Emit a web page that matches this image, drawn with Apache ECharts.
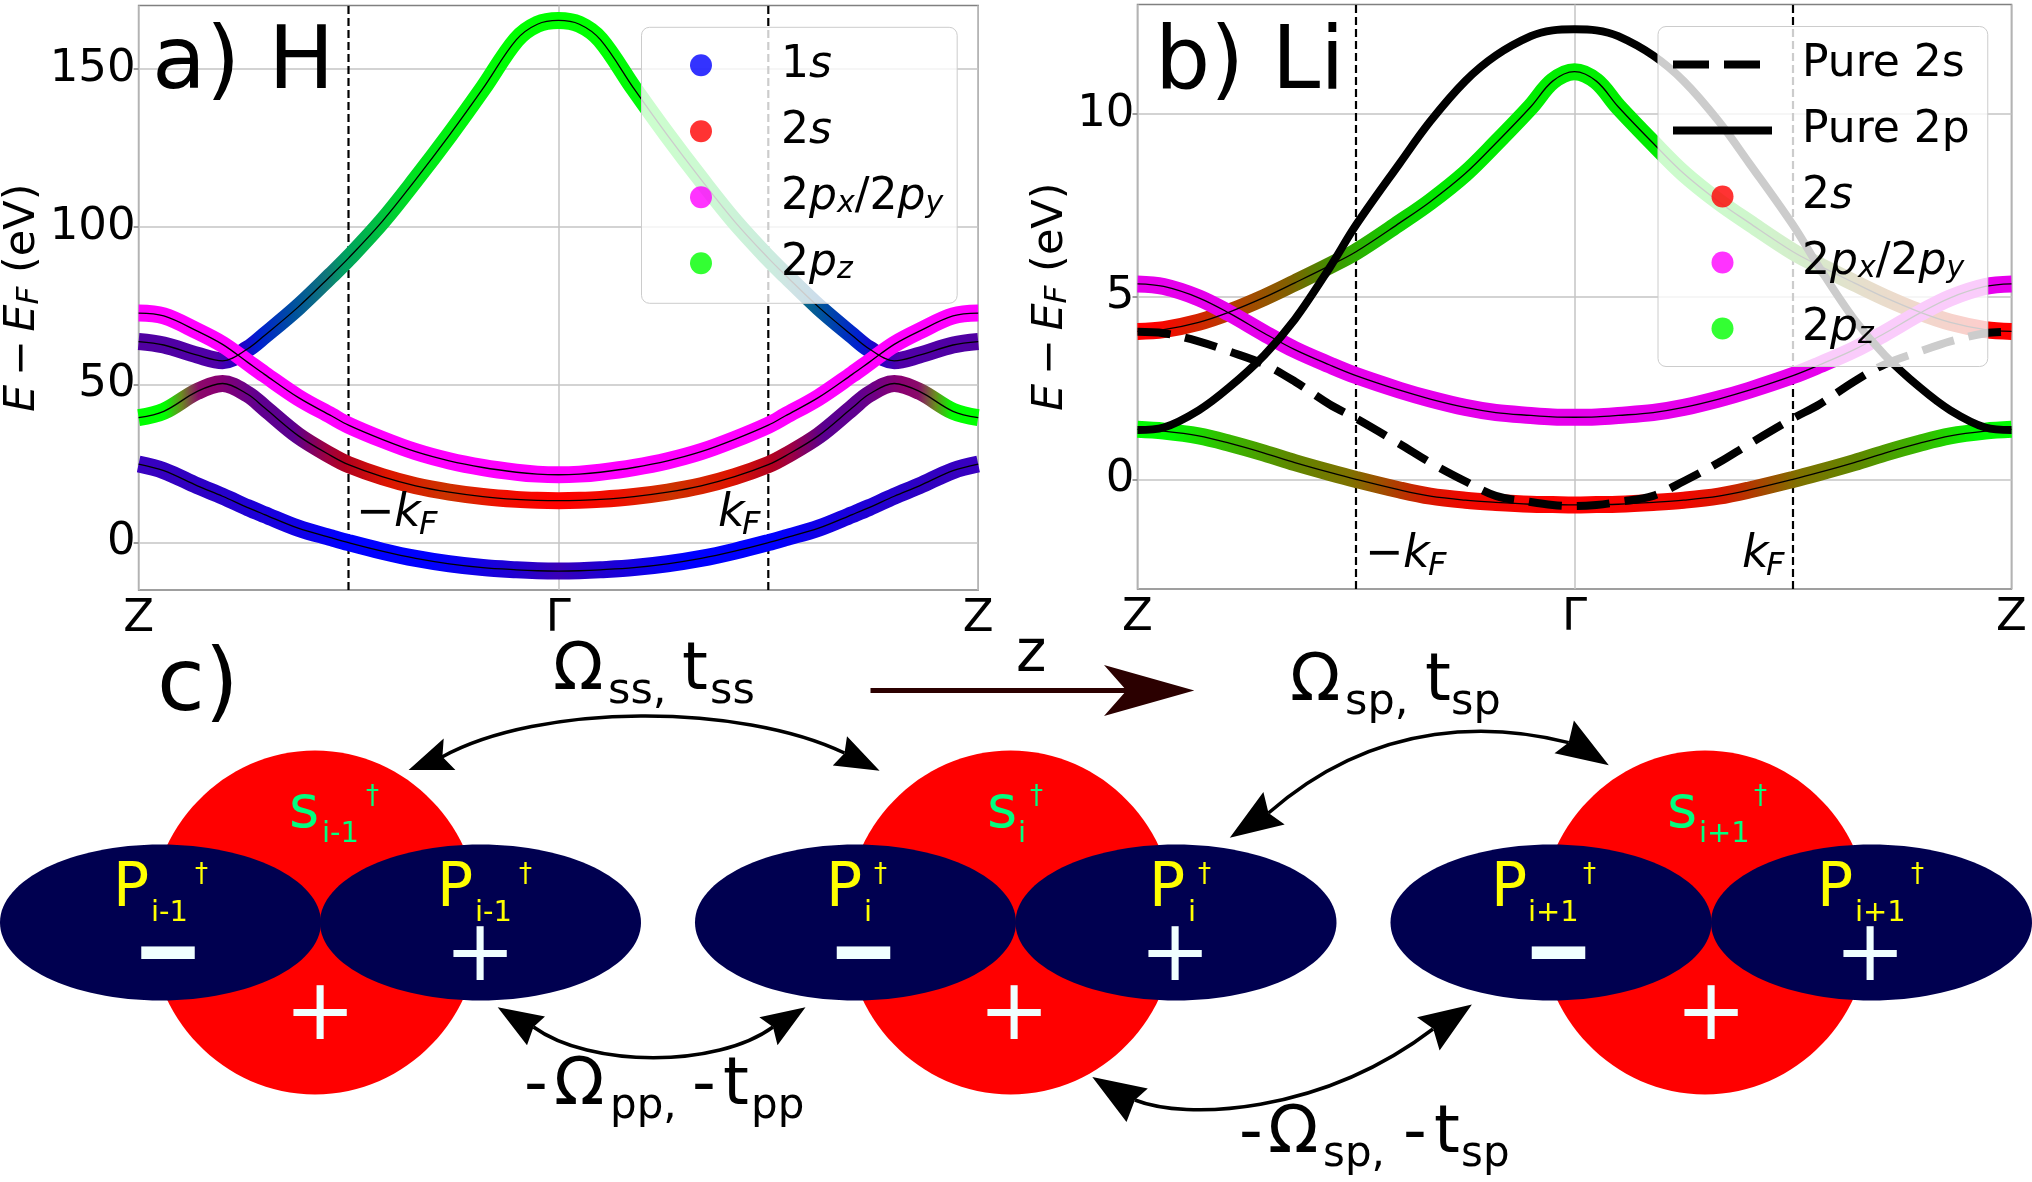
<!DOCTYPE html>
<html>
<head>
    <meta charset="utf-8"/>
    <script src="https://cdn.jsdelivr.net/npm/echarts@6/dist/echarts.min.js"></script>
    <style>html,body{margin:0;padding:0;background:#fff}</style>
</head>
<body>
<div id="main" style="width: 2032px;height:1182px;"></div>
<script type="text/javascript">
    // band energies, Z -> Gamma only (the other half is the mirror image)
    var kA = [0, .03, .07, .1, .13, .15, .19, .23, .25, .29, .33, .37, .41, .45, .475, .5];
    var h1s = [24.9, 22.8, 18.0, 14.7, 11.1, 8.9, 4.6, 1.5, 0, -2.7, -5, -6.7, -7.9, -8.6, -8.9, -9];
    var h2s = [39.6, 41.6, 47.9, 50.4, 47, 42.7, 33.9, 27.4, 24.7, 20.9, 18, 16, 14.6, 13.7, 13.4, 13.3];
    var h2pz = [63.7, 62.6, 59.4, 57.6, 61.4, 65.6, 74.6, 84.8, 90.1, 101.7, 115, 129, 143.8, 159.3, 164.2, 165.4];
    var h2pxy = [72.7, 71.8, 67, 62.8, 57.1, 53.3, 46, 40.1, 37.2, 32.7, 28.8, 25.9, 23.8, 22.3, 21.7, 21.5];

    var kB = [0, .03, .07, .105, .145, .18, .22, .25, .3, .335, .375, .41, .45, .475, .5];
    var liLow = [1.37, 1.32, 1.19, .99, .72, .46, .19, 0, -.29, -.46, -.57, -.63, -.68, -.69, -.7];
    var liUp = [4.05, 4.1, 4.3, 4.58, 4.98, 5.38, 5.85, 6.23, 7.02, 7.6, 8.37, 9.2, 10.2, 10.9, 11.16];
    var liPxy = [5.35, 5.28, 4.97, 4.55, 4.0, 3.55, 3.13, 2.84, 2.44, 2.2, 1.97, 1.83, 1.75, 1.71, 1.70];
    var pure2p = [1.35, 1.42, 1.89, 2.52, 3.4, 4.38, 5.8, 6.96, 8.65, 9.8, 10.9, 11.6, 12.13, 12.29, 12.32];
    var pure2s = [4.04, 4.0, 3.78, 3.5, 3.15, 2.68, 2.05, 1.67, .97, .46, -.05, -.45, -.62, -.7, -.73];

    var kFermi = [.25, .75];
    var ticksA = [0, 50, 100, 150];
    var ticksB = [0, 5, 10];
    var FONT = '"DejaVu Sans"';

    function mirror(k, v) {
        var out = [];
        for (var i = 0; i < k.length; i++) out.push([k[i], v[i]]);
        for (var j = k.length - 2; j >= 0; j--) out.push([1 - k[j], v[j]]);
        return out;
    }
    // colour along the band (orbital weight), given for the left half
    function grad(stops) {
        var s = [];
        stops.forEach(function (p) { s.push({offset: p[0], color: p[1]}); });
        for (var i = stops.length - 2; i >= 0; i--) s.push({offset: 1 - stops[i][0], color: stops[i][1]});
        return new echarts.graphic.LinearGradient(0, 0, 1, 0, s);
    }

    var series = [];
    function band(idx, name, k, v, color) {
        series.push({
            name: name, type: 'line', xAxisIndex: idx, yAxisIndex: idx, data: mirror(k, v),
            smooth: .35, symbol: 'none', silent: true,
            lineStyle: {width: 17, color: color, cap: 'butt', join: 'round'}
        });
    }
    function thin(idx, k, v) {
        series.push({
            type: 'line', xAxisIndex: idx, yAxisIndex: idx, data: mirror(k, v),
            smooth: .35, symbol: 'none', silent: true,
            lineStyle: {width: 1.3, color: '#000'}
        });
    }
    function dummy(idx, name, color) {
        series.push({name: name, type: 'scatter', xAxisIndex: idx, yAxisIndex: idx, data: [], itemStyle: {color: color}});
    }

    // kF markers
    [0, 1].forEach(function (idx) {
        kFermi.forEach(function (kf) {
            var yr = idx === 0 ? [-15, 170.1] : [-3, 13];
            series.push({
                type: 'line', xAxisIndex: idx, yAxisIndex: idx, data: [[kf, yr[0]], [kf, yr[1]]], z: 3,
                symbol: 'none', silent: true, lineStyle: {width: 2.2, color: '#000', type: [8, 4]}
            });
        });
    });

    band(0, 'band 1', kA, h1s, grad([[0, '#3b00c0'], [.07, '#3000c0'], [.2, '#1000e8'], [.25, '#0000ff'], [.35, '#0000ff'], [.45, '#2000d0'], [.5, '#3800b8']]));
    band(0, 'band 2', kA, h2s, grad([[0, '#00ff00'], [.04, '#00ff00'], [.06, '#6a8a20'], [.08, '#8a0a6a'], [.1, '#8a0070'], [.15, '#600090'], [.19, '#5a0090'], [.23, '#a00040'], [.25, '#b00020'], [.3, '#dd1500'], [.37, '#cc3300'], [.43, '#ee1000'], [.5, '#ff0000']]));
    band(0, 'band 3', kA, h2pz, grad([[0, '#5000a0'], [.1, '#5000a8'], [.13, '#2000c8'], [.15, '#0020d0'], [.19, '#0050a0'], [.23, '#107878'], [.25, '#00a060'], [.29, '#00c040'], [.33, '#00e020'], [.37, '#00f010'], [.45, '#00ff00'], [.5, '#00ff00']]));
    band(0, 'band 4', kA, h2pxy, '#ff00ff');
    [h1s, h2s, h2pz, h2pxy].forEach(function (v) { thin(0, kA, v); });

    band(1, 'band 5', kB, liLow, grad([[0, '#00ff00'], [.05, '#00f800'], [.1, '#30c000'], [.18, '#5e8800'], [.25, '#807000'], [.3, '#b03c00'], [.335, '#d81800'], [.375, '#ee0800'], [.5, '#ff0000']]));
    band(1, 'band 6', kB, liUp, grad([[0, '#ff0000'], [.03, '#ff0000'], [.07, '#d82000'], [.13, '#a84800'], [.18, '#806000'], [.22, '#488a00'], [.25, '#30aa00'], [.3, '#10d000'], [.35, '#00e800'], [.5, '#00f000']]));
    band(1, 'band 7', kB, liPxy, '#e600ec');
    [liLow, liUp, liPxy].forEach(function (v) { thin(1, kB, v); });

    series.push({
        name: 'Pure 2s', type: 'line', xAxisIndex: 1, yAxisIndex: 1, data: mirror(kB, pure2s), symbol: 'none', silent: true,
        smooth: .35, itemStyle: {color: '#000'}, lineStyle: {width: 8, color: '#000', type: [33, 15]}
    });
    series.push({
        name: 'Pure 2p', type: 'line', xAxisIndex: 1, yAxisIndex: 1, data: mirror(kB, pure2p), symbol: 'none', silent: true,
        smooth: .35, itemStyle: {color: '#000'}, lineStyle: {width: 8, color: '#000'}
    });

    dummy(0, '1s', '#0000ff');
    dummy(0, '2s', '#ff0000');
    dummy(0, '2pxy', '#ff00ff');
    dummy(0, '2pz', '#00ff00');

    function legendRich(gap) {
        return {
            gap: {width: gap},
            n: {fontFamily: FONT, fontSize: 44, color: '#000', height: 48, lineHeight: 48},
            i: {fontFamily: FONT, fontSize: 44, fontStyle: 'italic', color: '#000', height: 48, lineHeight: 48},
            s: {fontFamily: FONT, fontSize: 30, fontStyle: 'italic', color: '#000', padding: [14, 0, 0, 0], height: 34, lineHeight: 34}
        };
    }
    var legendText = {
        '1s': '{gap|}{n|1}{i|s}',
        '2s': '{gap|}{n|2}{i|s}',
        '2pxy': '{gap|}{n|2}{i|p}{s|x}{n|/2}{i|p}{s|y}',
        '2pz': '{gap|}{n|2}{i|p}{s|z}',
        'Pure 2s': '{gap|}{n|Pure 2s}',
        'Pure 2p': '{gap|}{n|Pure 2p}'
    };
    function legendOf(names, left, top, padding, gap, width, textGap) {
        return {
            orient: 'vertical', left: left, top: top, padding: padding, itemGap: gap,
            itemWidth: width, itemHeight: 22, selectedMode: false,
            backgroundColor: 'rgba(255,255,255,0.8)', borderColor: '#ccc', borderWidth: 1, borderRadius: 8,
            data: names.map(function (n) {
                if (n === 'Pure 2s') return {name: n, itemStyle: {opacity: 0}, lineStyle: {width: 8, color: '#000', type: [36, 15]}};
                if (n === 'Pure 2p') return {name: n, itemStyle: {opacity: 0}, lineStyle: {width: 8, color: '#000', type: 'solid'}};
                return {name: n, icon: 'circle'};
            }),
            formatter: function (n) { return legendText[n]; },
            textStyle: {rich: legendRich(textGap), fontFamily: FONT, fontSize: 44}
        };
    }

    function xAxisOf(idx) {
        return {
            type: 'value', gridIndex: idx, min: 0, max: 1, interval: .5,
            axisLine: {show: false}, axisTick: {show: false},
            splitLine: {show: true, lineStyle: {color: '#c4c4c4', width: 1.5}},
            axisLabel: {
                margin: 7, fontFamily: FONT, fontSize: 45, color: '#000',
                formatter: function (v) { return v === .5 ? 'Γ' : 'Z'; }
            }
        };
    }
    function yAxisOf(idx, min, max, ticks, gap) {
        return {
            type: 'value', gridIndex: idx, min: min, max: max,
            axisLine: {show: false},
            axisTick: {show: true, length: 5, lineStyle: {color: '#808080', width: 1.5}, customValues: ticks},
            splitLine: {show: true, lineStyle: {color: '#c4c4c4', width: 1.5}},
            axisLabel: {margin: 3, padding: [6, 0, 0, 0], fontFamily: FONT, fontSize: 45, color: '#000', customValues: ticks},
            name: '{i|E}{n|\u2009−\u2009}{i|E}{s|F}{n|\u00a0(eV)}', nameLocation: 'middle', nameRotate: 90, nameGap: gap,
            nameTextStyle: {
                rich: {
                    n: {fontFamily: FONT, fontSize: 43, color: '#000'},
                    i: {fontFamily: FONT, fontSize: 43, fontStyle: 'italic', color: '#000'},
                    s: {fontFamily: FONT, fontSize: 31, fontStyle: 'italic', color: '#000', padding: [14, 0, 0, 0]}
                }
            }
        };
    }

    // free text, y is the baseline
    function txt(x, base, s, size, color, style) {
        return {
            type: 'text', z: 10, silent: true,
            style: {
                x: x, y: base - .346 * size, text: s, fill: color || '#000', align: 'left', verticalAlign: 'middle',
                font: (style || '') + ' ' + size + 'px ' + FONT
            }
        };
    }
    function centered(x, y, s, size, color, style) {
        var t = txt(x, y, s, size, color, style);
        t.style.y = y;
        t.style.align = 'center';
        return t;
    }
    function poly(points, color) {
        return {type: 'polygon', z: 10, silent: true, shape: {points: points}, style: {fill: color || '#000'}};
    }
    function curve(p, color) {
        return {
            type: 'bezierCurve', z: 10, silent: true,
            shape: {x1: p[0], y1: p[1], cpx1: p[2], cpy1: p[3], cpx2: p[4], cpy2: p[5], x2: p[6], y2: p[7]},
            style: {stroke: color || '#000', lineWidth: 3.5, fill: null}
        };
    }

    var g = [];
    // panel letters
    g.push(txt(152, 96, 'a) H', 88), txt(1155, 96, 'b) Li', 87), txt(157, 718, 'c)', 87));
    // kF labels
    g.push(txt(356, 530, '−', 46), txt(394, 530, 'k', 46, '#000', 'italic'), txt(419, 537, 'F', 32, '#000', 'italic'));
    g.push(txt(718, 530, 'k', 46, '#000', 'italic'), txt(742, 537, 'F', 32, '#000', 'italic'));
    g.push(txt(1365, 571, '−', 46), txt(1403, 571, 'k', 46, '#000', 'italic'), txt(1428, 578, 'F', 32, '#000', 'italic'));
    g.push(txt(1742, 571, 'k', 46, '#000', 'italic'), txt(1766, 578, 'F', 32, '#000', 'italic'));

    // orbitals
    var redX = [315, 1010.6, 1705];
    var blueX = [160.5, 480.5, 855.5, 1176, 1551, 1871.5];
    redX.forEach(function (x) {
        g.push({type: 'ellipse', z: 9, silent: true, shape: {cx: x, cy: 922.5, rx: 165.5, ry: 172}, style: {fill: '#ff0000'}});
    });
    blueX.forEach(function (x) {
        g.push({type: 'ellipse', z: 9, silent: true, shape: {cx: x, cy: 922.5, rx: 160.5, ry: 78}, style: {fill: '#000050'}});
    });
    var GREEN = '#00ff7f', YEL = '#ffff00', SIGN = '#f0ffff';
    [[289, 322, 366, 'i-1'], [987, 1018, 1030, 'i'], [1667, 1699, 1754, 'i+1']].forEach(function (r) {
        g.push(txt(r[0], 832, 's', 58, GREEN), txt(r[1], 845, r[3], 29, GREEN), txt(r[2], 806, '†', 26, GREEN));
    });
    [[113, 151, 195, 'i-1'], [437, 475, 519, 'i-1'], [826, 864, 874, 'i'], [1149, 1188, 1198, 'i'],
        [1491, 1528, 1583, 'i+1'], [1817, 1855, 1911, 'i+1']].forEach(function (r) {
        g.push(txt(r[0], 911, 'P', 60, YEL), txt(r[1], 924, r[3], 29, YEL), txt(r[2], 884, '†', 26, YEL));
    });
    [168, 863.4, 1558.4].forEach(function (x) {
        var m = centered(x, 954, '–', 100, SIGN, 'bold');
        m.originX = x; m.originY = 954; m.scaleX = 1.36;
        g.push(m);
    });
    [480, 1175, 1870].forEach(function (x) { g.push(centered(x, 958, '+', 85, SIGN)); });
    [320, 1014, 1711].forEach(function (x) { g.push(centered(x, 1017, '+', 85, SIGN)); });

    // hopping labels
    function hop(items) {
        items.forEach(function (r) { g.push(txt(r[0], r[1], r[2], r[3])); });
    }
    hop([[553, 695, 'Ω', 66], [608, 707, 'ss,', 43], [682, 695, 't', 66], [710, 707, 'ss', 43]]);
    hop([[1290, 706, 'Ω', 66], [1345, 718, 'sp,', 43], [1425, 706, 't', 66], [1451, 718, 'sp', 43]]);
    hop([[524, 1110, '-', 66], [554, 1110, 'Ω', 66], [610, 1122, 'pp,', 42], [692, 1110, '-', 66], [723, 1110, 't', 66], [751, 1122, 'pp', 42]]);
    hop([[1239, 1158, '-', 66], [1268, 1158, 'Ω', 66], [1323, 1170, 'sp,', 42], [1403, 1158, '-', 66], [1434, 1158, 't', 66], [1461, 1170, 'sp', 42]]);
    g.push(txt(1016, 676, 'z', 58));

    // hopping arrows
    g.push(curve([442, 757, 540, 703, 740, 703, 844.5, 753]));
    g.push(poly([[408.6, 770], [443.7, 738.4], [442.4, 756.7], [455.4, 770]]));
    g.push(poly([[879.6, 770.8], [847, 736.3], [844.5, 753.2], [832.8, 765.5]]));
    g.push(curve([533.5, 1027, 590, 1068, 717, 1068, 773, 1027]));
    g.push(poly([[497.7, 1007.3], [545, 1016.5], [533.5, 1027], [527, 1045.3]]));
    g.push(poly([[805.5, 1007.3], [759.3, 1017.2], [773, 1027], [777.5, 1045.3]]));
    g.push(curve([1268.5, 813, 1380, 715, 1500, 725, 1568.7, 742.6]));
    g.push(poly([[1608.8, 765.2], [1573.9, 720.5], [1568.7, 742.6], [1554.5, 753.2]]));
    g.push(poly([[1229.8, 837.7], [1263.4, 791.9], [1268.5, 813], [1284.7, 824.6]]));
    g.push(curve([1134.9, 1100, 1185, 1120, 1320, 1115, 1433, 1029]));
    g.push(poly([[1471.9, 1004.5], [1417, 1017.2], [1433.2, 1028.8], [1439.6, 1050.6]]));
    g.push(poly([[1092.3, 1077], [1147.8, 1088.6], [1134.9, 1099.9], [1126.5, 1122]]));
    // z direction
    g.push({type: 'line', z: 10, silent: true, shape: {x1: 870.5, y1: 690.5, x2: 1130, y2: 690.5}, style: {stroke: '#2b0000', lineWidth: 5}});
    g.push(poly([[1194.3, 690.5], [1104, 665], [1126.5, 690.5], [1104, 716]], '#2b0000'));

    var option = {
        animation: false,
        backgroundColor: '#fff',
        textStyle: {fontFamily: FONT},
        grid: [
            {left: 138.6, top: 5.6, width: 839.6, height: 584.4, show: true, borderColor: '#808080', borderWidth: 1.5, outerBoundsMode: 'none'},
            {left: 1137.5, top: 4.4, width: 874, height: 584.6, show: true, borderColor: '#808080', borderWidth: 1.5, outerBoundsMode: 'none'}
        ],
        xAxis: [xAxisOf(0), xAxisOf(1)],
        yAxis: [yAxisOf(0, -15, 170.1, ticksA, 74), yAxisOf(1, -3, 13, ticksB, 55)],
        legend: [
            legendOf(['1s', '2s', '2pxy', '2pz'], 641.5, 27.3, [14, 14, 16, 48.5], 18, 94, 28),
            legendOf(['Pure 2s', 'Pure 2p', '2s', '2pxy', '2pz'], 1658, 26.5, [14, 18, 14, 11], 18, 99, 25)
        ],
        series: series,
        graphic: {elements: g}
    };

    var myChart = echarts.init(document.getElementById('main'));
    myChart.setOption(option);
</script>
</body>
</html>
